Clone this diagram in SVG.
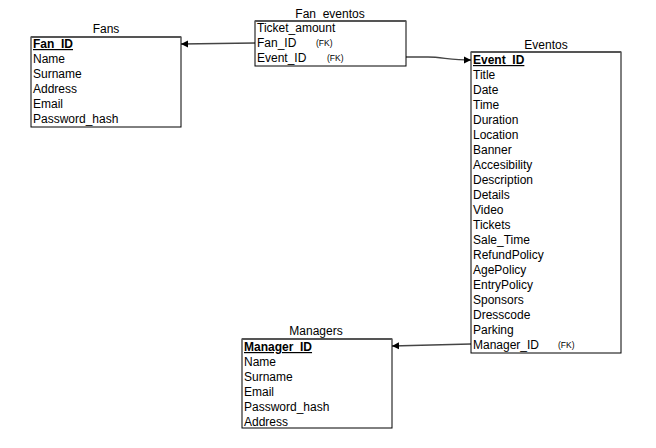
<svg xmlns="http://www.w3.org/2000/svg" width="656" height="448" viewBox="0 0 656 448">
<defs>
<marker id="arr" viewBox="0 0 8 8" refX="8" refY="4" markerWidth="7" markerHeight="8" markerUnits="userSpaceOnUse" orient="auto">
<path d="M0,0 L8,4 L0,8 Z" fill="#000"/>
</marker>
</defs>
<style>
text{font-family:"Liberation Sans",Arial,sans-serif;font-size:12px;fill:#000}
.t{text-anchor:middle}
.pk{font-weight:bold;text-decoration:underline}
.fk{font-size:8.5px}
.box{fill:#fff;stroke:#000;stroke-width:1}
.hd{stroke:#555;stroke-width:2}
.c{fill:none;stroke:#444;stroke-width:1.3}
</style>
<rect width="656" height="448" fill="#fff"/>
<g id="connectors">
<path class="c" d="M255,43 L181,44" marker-end="url(#arr)"/>
<path class="c" d="M406,57 L428,57 C442,57 450,60 471,60" marker-end="url(#arr)"/>
<path class="c" d="M471,344 L392,346" marker-end="url(#arr)"/>
</g>
<g id="fans">
<text class="t" x="106" y="33">Fans</text>
<rect class="box" x="31" y="37" width="150" height="90"/>
<line class="hd" x1="31" y1="37" x2="181" y2="37"/>
<text class="pk" x="33" y="48">Fan_ID</text>
<text x="33" y="63">Name</text>
<text x="33" y="78">Surname</text>
<text x="33" y="93">Address</text>
<text x="33" y="108">Email</text>
<text x="33" y="123">Password_hash</text>
</g>
<g id="fan_eventos">
<text class="t" x="330" y="18">Fan_eventos</text>
<rect class="box" x="255" y="21" width="151" height="45"/>
<line class="hd" x1="255" y1="21" x2="406" y2="21"/>
<text x="257" y="32">Ticket_amount</text>
<text x="257" y="47">Fan_ID</text>
<text class="fk" x="316" y="46">(FK)</text>
<text x="257" y="62">Event_ID</text>
<text class="fk" x="327" y="61">(FK)</text>
</g>
<g id="eventos">
<text class="t" x="546" y="49">Eventos</text>
<rect class="box" x="471" y="52" width="150" height="301"/>
<line class="hd" x1="471" y1="52" x2="621" y2="52"/>
<text class="pk" x="473" y="64">Event_ID</text>
<text x="473" y="79">Title</text>
<text x="473" y="94">Date</text>
<text x="473" y="109">Time</text>
<text x="473" y="124">Duration</text>
<text x="473" y="139">Location</text>
<text x="473" y="154">Banner</text>
<text x="473" y="169">Accesibility</text>
<text x="473" y="184">Description</text>
<text x="473" y="199">Details</text>
<text x="473" y="214">Video</text>
<text x="473" y="229">Tickets</text>
<text x="473" y="244">Sale_Time</text>
<text x="473" y="259">RefundPolicy</text>
<text x="473" y="274">AgePolicy</text>
<text x="473" y="289">EntryPolicy</text>
<text x="473" y="304">Sponsors</text>
<text x="473" y="319">Dresscode</text>
<text x="473" y="334">Parking</text>
<text x="473" y="349">Manager_ID</text>
<text class="fk" x="558" y="348">(FK)</text>
</g>
<g id="managers">
<text class="t" x="316" y="335">Managers</text>
<rect class="box" x="242" y="339" width="150" height="89"/>
<line class="hd" x1="242" y1="339" x2="392" y2="339"/>
<text class="pk" x="244" y="351">Manager_ID</text>
<text x="244" y="366">Name</text>
<text x="244" y="381">Surname</text>
<text x="244" y="396">Email</text>
<text x="244" y="411">Password_hash</text>
<text x="244" y="426">Address</text>
</g>
</svg>
